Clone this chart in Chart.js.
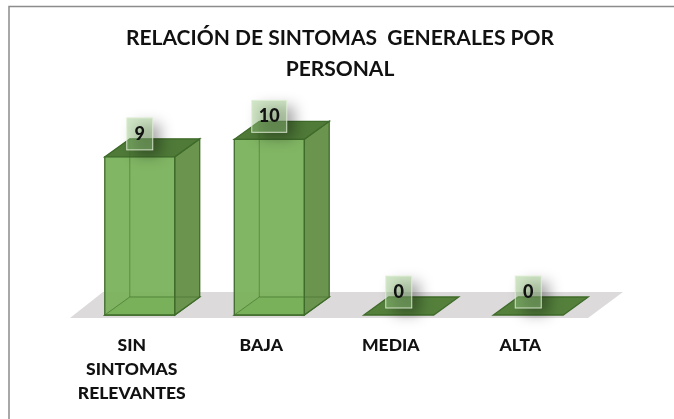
<!DOCTYPE html>
<html>
<head>
<meta charset="utf-8">
<title>Relación de sintomas</title>
<script src="https://cdn.jsdelivr.net/npm/chart.js@4"></script>
<style>
    html, body { margin: 0; padding: 0; background: #ffffff; overflow: hidden; }
    canvas { display: block; }
</style>
</head>
<body>
<canvas id="sintomas" width="674" height="419"></canvas>
<script>
const categorias = [['SIN', 'SINTOMAS', 'RELEVANTES'], 'BAJA', 'MEDIA', 'ALTA'];
const personas = [9, 10, 0, 0];
const tituloLineas = ['RELACIÓN DE SINTOMAS  GENERALES POR', 'PERSONAL'];

const profX = 25;      // 3d depth, to the right
const profY = 18;      // 3d depth, upwards

function cara(ctx, pts, fill, stroke) {
    ctx.beginPath();
    pts.forEach((p, i) => i ? ctx.lineTo(p[0], p[1]) : ctx.moveTo(p[0], p[1]));
    ctx.closePath();
    if (fill) { ctx.fillStyle = fill; ctx.fill(); }
    if (stroke) { ctx.strokeStyle = stroke; ctx.lineWidth = 1.3; ctx.stroke(); }
}

// frame and grey floor go under the bars
const fondo3d = {
    id: 'fondo3d',
    beforeDatasetsDraw(chart) {
        const ctx = chart.ctx, a = chart.chartArea;
        ctx.save();
        ctx.strokeStyle = '#8c8c8c';
        ctx.lineWidth = 1.5;
        ctx.beginPath();
        ctx.moveTo(9, chart.height);
        ctx.lineTo(9, 6.5);
        ctx.lineTo(chart.width, 6.5);
        ctx.stroke();
        cara(ctx, [
            [a.left - 5, a.bottom + 3],
            [a.right - 5, a.bottom + 3],
            [a.right + 30, a.bottom - 23],
            [a.left + 28, a.bottom - 23]
        ], '#dcdadb');
        ctx.restore();
    }
};

// draws the prisms from the positions the bar elements got from the scales
const barras3d = {
    id: 'barras3d',
    afterDatasetsDraw(chart) {
        const ctx = chart.ctx;
        const meta = chart.getDatasetMeta(0);
        ctx.save();
        meta.data.forEach((bar) => {
            const w = bar.width / 2;
            const x0 = bar.x - w, x1 = bar.x + w;
            const top = bar.y, base = bar.base;
            const borde = '#3f6b2a';
            if (base - top < 1) {
                cara(ctx, [[x0, base], [x1, base], [x1 + profX, base - profY], [x0 + profX, base - profY]], '#54803c', borde);
                return;
            }
            // back edges seen through the glass
            cara(ctx, [[x0 + profX, base - profY], [x1 + profX, base - profY], [x1, base], [x0, base]], '#5c8c42', borde);
            cara(ctx, [[x1, top], [x1 + profX, top - profY], [x1 + profX, base - profY], [x1, base]], '#6b944f', borde);
            cara(ctx, [[x0, top], [x1, top], [x1 + profX, top - profY], [x0 + profX, top - profY]], '#4f7a38', borde);
            cara(ctx, [[x0, top], [x1, top], [x1, base], [x0, base]], 'rgba(122,178,92,0.95)', borde);
            ctx.strokeStyle = 'rgba(63,107,42,0.55)';
            ctx.lineWidth = 1;
            ctx.beginPath();
            ctx.moveTo(x0 + profX, top - profY);
            ctx.lineTo(x0 + profX, base - profY);
            ctx.lineTo(x1 + profX, base - profY);
            ctx.moveTo(x0 + profX, base - profY);
            ctx.lineTo(x0, base);
            ctx.stroke();
        });
        ctx.restore();
    }
};

// value labels: pale green box with soft shadow
const etiquetas = {
    id: 'etiquetas',
    afterDraw(chart) {
        const ctx = chart.ctx;
        const meta = chart.getDatasetMeta(0);
        ctx.save();
        ctx.font = '900 18px Lato';
        ctx.textAlign = 'center';
        ctx.textBaseline = 'middle';
        meta.data.forEach((bar, i) => {
            const txt = String(personas[i]);
            const w = txt.length > 1 ? 35 : 26;
            const cx = bar.x;
            const cy = bar.y - 23;
            ctx.save();
            ctx.shadowColor = 'rgba(0,0,0,0.75)';
            ctx.shadowBlur = 14;
            ctx.shadowOffsetX = 8;
            ctx.shadowOffsetY = 6;
            ctx.fillStyle = 'rgba(150,200,130,0.45)';
            ctx.fillRect(cx - w / 2, cy - 16, w, 32);
            ctx.restore();
            ctx.strokeStyle = 'rgba(225,238,215,0.9)';
            ctx.lineWidth = 1;
            ctx.strokeRect(cx - w / 2, cy - 16, w, 32);
            ctx.fillStyle = '#111111';
            ctx.fillText(txt, cx, cy);
        });
        ctx.restore();
    }
};

new Chart(document.getElementById('sintomas'), {
    type: 'bar',
    data: {
        labels: categorias,
        datasets: [{
            data: personas,
            backgroundColor: 'rgba(0,0,0,0)',
            borderWidth: 0,
            categoryPercentage: 0.54,
            barPercentage: 1
        }]
    },
    options: {
        responsive: false,
        animation: false,
        layout: { padding: { left: 75, right: 69, top: 0, bottom: 0 } },
        plugins: {
            legend: { display: false },
            tooltip: { enabled: false },
            title: {
                display: true,
                text: tituloLineas,
                color: '#111111',
                font: { family: 'Lato', size: 21, weight: 'bold', lineHeight: 1.48 },
                padding: { top: 23, bottom: 19 }
            }
        },
        scales: {
            x: {
                grid: { display: false, drawTicks: false },
                border: { display: false },
                afterFit(scale) { scale.height = 104; },
                ticks: {
                    color: '#111111',
                    font: { family: 'Lato', size: 17.5, weight: '900', lineHeight: 1.37 },
                    maxRotation: 0,
                    autoSkip: false,
                    padding: 18,
                    labelOffset: -8
                }
            },
            y: {
                position: 'right',
                min: 0,
                max: 12,
                grid: { display: false },
                border: { display: false },
                ticks: { display: false },
                afterFit(scale) { scale.width = 12; }
            }
        }
    },
    plugins: [fondo3d, barras3d, etiquetas]
});
</script>
</body>
</html>
